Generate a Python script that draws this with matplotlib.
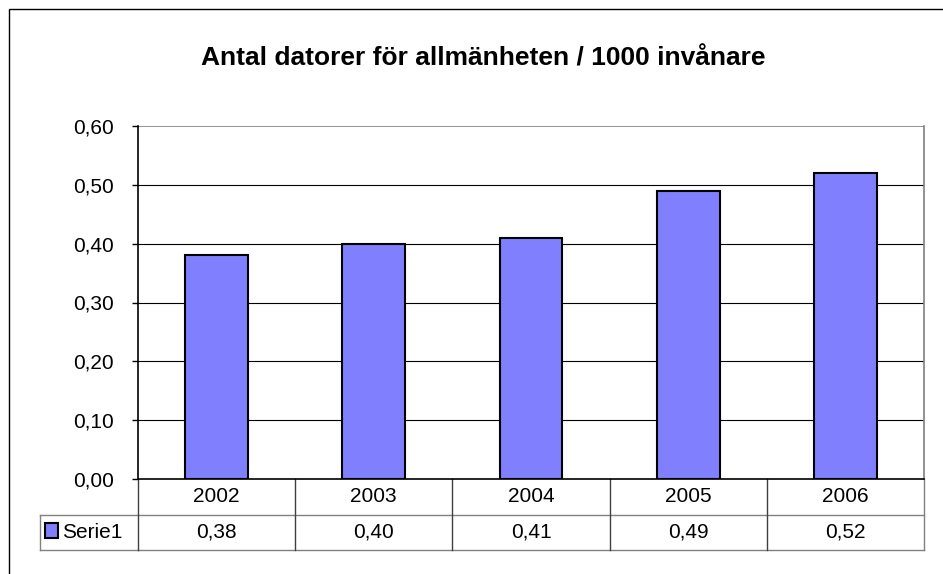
import matplotlib.pyplot as plt
from matplotlib.patches import Rectangle
from matplotlib.lines import Line2D
import matplotlib.transforms as mtransforms

plt.rcParams['font.family'] = ['Liberation Sans', 'DejaVu Sans']

years = ["2002", "2003", "2004", "2005", "2006"]
values = [0.38, 0.40, 0.41, 0.49, 0.52]
series_name = "Serie1"
title = "Antal datorer för allmänheten / 1000 invånare"
yticks = [0.0, 0.1, 0.2, 0.3, 0.4, 0.5, 0.6]

W, H = 943, 574
fs = 15
fig = plt.figure(figsize=(W / 100, H / 100), dpi=100)

# plot area in pixel coords
x0, x1, y0, y1 = 138, 924, 126, 479
ax = fig.add_axes([x0 / W, 1 - y1 / H, (x1 - x0) / W, (y1 - y0) / H])

bar_color = "#8080FF"
xs = range(len(years))
ax.bar(xs, values, width=0.4, color=bar_color, edgecolor="black", linewidth=1.5, zorder=3)

ax.set_xlim(-0.5, len(years) - 0.5)
ax.set_ylim(0, 0.6)
ax.set_yticks(yticks)
ax.set_yticklabels([f"{t:.2f}".replace(".", ",") for t in yticks], fontsize=fs)
ax.set_xticks([])
for t in yticks[1:-1]:
    ax.axhline(t, color="black", linewidth=0.8, zorder=1)
ax.axhline(0.6, color="#808080", linewidth=1.2, zorder=1)

ax.spines['left'].set_color("black")
ax.spines['left'].set_linewidth(1.2)
ax.spines['bottom'].set_color("black")
ax.spines['bottom'].set_linewidth(1.2)
ax.spines['right'].set_color("#808080")
ax.spines['right'].set_linewidth(1.2)
ax.spines['top'].set_visible(False)
ax.tick_params(axis='y', direction='out', length=4.5, width=1, pad=13, colors="black")

# title
fig.text(483 / W, 1 - 58 / H, title, ha="center", va="center",
         fontsize=19, fontweight="bold")

# data table below axes
ph = y1 - y0
row_h = 35.5 / ph
trans = mtransforms.blended_transform_factory(ax.transData, ax.transAxes)
lw = 1.0
gray = "#808080"
dark = "#404040"
left_legend = ax.transAxes.inverted().transform(fig.transFigure.transform((40 / W, 0)))[0]

def add_line(xa, ya, color, transform):
    ax.add_line(Line2D(xa, ya, color=color, linewidth=lw, transform=transform, clip_on=False))

# horizontal lines
add_line([-0.5, len(years) - 0.5], [-row_h, -row_h], gray, trans)
add_line([-0.5, len(years) - 0.5], [-2 * row_h, -2 * row_h], gray, trans)
add_line([left_legend, 0], [-row_h, -row_h], gray, ax.transAxes)
add_line([left_legend, 0], [-2 * row_h, -2 * row_h], gray, ax.transAxes)
add_line([left_legend, left_legend], [-row_h, -2 * row_h], gray, ax.transAxes)
# vertical lines
for i in range(len(years) + 1):
    xv = i - 0.5
    c = gray if i == len(years) else dark
    add_line([xv, xv], [0, -2 * row_h], c, trans)

for i, (yr, v) in enumerate(zip(years, values)):
    ax.text(i, -0.5 * row_h, yr, transform=trans, ha="center", va="center", fontsize=fs)
    ax.text(i, -1.5 * row_h, f"{v:.2f}".replace(".", ","), transform=trans,
            ha="center", va="center", fontsize=fs)

# legend key in table
fig.patches.append(Rectangle((45 / W, 1 - 538 / H), 13 / W, 15 / H, transform=fig.transFigure,
                             facecolor=bar_color, edgecolor="black", linewidth=1.5))
fig.text(62 / W, 1 - 532 / H, series_name, ha="left", va="center", fontsize=fs)

# outer chart frame (extends beyond the image)
fig.patches.append(Rectangle((9 / W, -0.1), 1.2, 1.1 - 9 / H, transform=fig.transFigure,
                             facecolor="none", edgecolor="black", linewidth=1))

fig.savefig("out.png", dpi=100)
